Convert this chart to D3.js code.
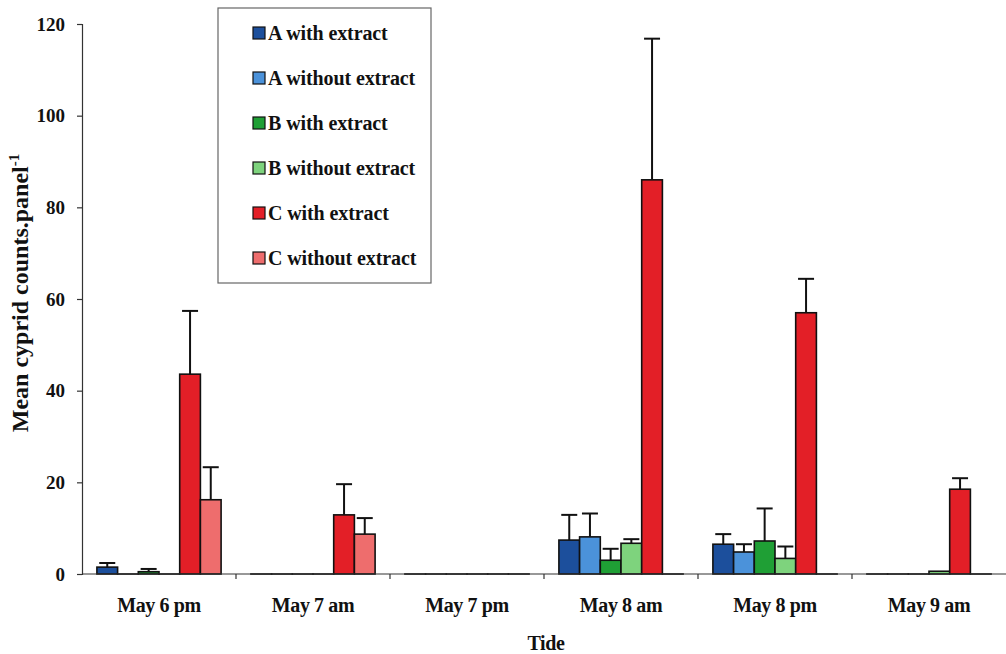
<!DOCTYPE html>
<html>
<head>
<meta charset="utf-8">
<script src="https://cdn.jsdelivr.net/npm/d3@7"></script>
<style>
  html, body { margin: 0; padding: 0; background: #fff; }
  svg { display: block; }
  text { font-family: "Liberation Serif", "Times New Roman", serif; font-weight: bold; fill: #111; }
</style>
</head>
<body>
<svg id="chart" width="1006" height="654"></svg>
<script>
// Sampling tides
const categories = ["May 6 pm", "May 7 am", "May 7 pm", "May 8 am", "May 8 pm", "May 9 am"];
const seriesNames = ["A with extract", "A without extract", "B with extract",
                     "B without extract", "C with extract", "C without extract"];
const seriesColors = ["#1c4f9c", "#4b92da", "#1f9f35", "#7ed37d", "#e31f27", "#ee6d6d"];

// Mean cyprid counts per panel, one array per treatment
const aWith     = [1.5, 0, 0, 7.4, 6.5, 0];
const aWithout  = [0, 0, 0, 8.1, 4.8, 0];
const bWith     = [0.5, 0, 0, 3.0, 7.2, 0];
const bWithout  = [0, 0, 0, 6.7, 3.4, 0.6];
const cWith     = [43.6, 12.9, 0, 86.0, 57.0, 18.5];
const cWithout  = [16.2, 8.7, 0, 0, 0, 0];

// Upper error bar lengths (same order)
const aWithErr    = [0.9, 0, 0, 5.5, 2.2, 0];
const aWithoutErr = [0, 0, 0, 5.1, 1.7, 0];
const bWithErr    = [0.6, 0, 0, 2.5, 7.1, 0];
const bWithoutErr = [0, 0, 0, 0.9, 2.6, 0];
const cWithErr    = [13.8, 6.7, 0, 30.8, 7.4, 2.4];
const cWithoutErr = [7.1, 3.5, 0, 0, 0, 0];

const yTicks = [0, 20, 40, 60, 80, 100, 120];

const means = [aWith, aWithout, bWith, bWithout, cWith, cWithout];
const errs  = [aWithErr, aWithoutErr, bWithErr, bWithoutErr, cWithErr, cWithoutErr];

const svg = d3.select("#chart");
const margin = { left: 82, right: 0, top: 24 };
const W = 1006;
const plotBottom = 574;

const x0 = d3.scaleBand().domain(categories).range([margin.left, W - margin.right]).padding(0);
const x1 = d3.scaleBand().domain(seriesNames).range([0, x0.bandwidth()])
  .paddingInner(0).paddingOuter(0.72);
const y = d3.scaleLinear().domain([0, 120]).range([plotBottom, margin.top]);

// Flatten into bar records
const bars = [];
categories.forEach((c, ci) => {
  seriesNames.forEach((s, si) => {
    bars.push({ cat: c, series: s, si, value: means[si][ci], err: errs[si][ci] });
  });
});

// Bars
svg.append("g").selectAll("rect").data(bars).join("rect")
  .attr("x", d => x0(d.cat) + x1(d.series))
  .attr("y", d => y(d.value))
  .attr("width", x1.bandwidth())
  .attr("height", d => Math.max(0.01, y(0) - y(d.value)))
  .attr("fill", d => seriesColors[d.si])
  .attr("stroke", "#111")
  .attr("stroke-width", 1.6);

// Upper error bars
const capHalf = 8;
const eb = svg.append("g").attr("stroke", "#111").attr("stroke-width", 2);
bars.filter(d => d.err > 0).forEach(d => {
  const cx = x0(d.cat) + x1(d.series) + x1.bandwidth() / 2;
  eb.append("line").attr("x1", cx).attr("x2", cx)
    .attr("y1", y(d.value)).attr("y2", y(d.value + d.err));
  eb.append("line").attr("x1", cx - capHalf).attr("x2", cx + capHalf)
    .attr("y1", y(d.value + d.err)).attr("y2", y(d.value + d.err));
});

// Y axis
const yAxis = svg.append("g").attr("transform", `translate(${margin.left},0)`)
  .call(d3.axisLeft(y).tickValues(yTicks).tickSize(5).tickPadding(12));
yAxis.select(".domain").attr("stroke", "#333").attr("stroke-width", 1.2);
yAxis.selectAll(".tick line").attr("stroke", "#333").attr("stroke-width", 1.2);
yAxis.selectAll(".tick text").attr("font-size", 19)
  .style("font-family", '"Liberation Serif", serif').style("font-weight", "bold").attr("fill", "#111");

// X axis: line with ticks at category boundaries
const xg = svg.append("g");
xg.append("line").attr("x1", margin.left).attr("x2", W).attr("y1", y(0)).attr("y2", y(0))
  .attr("stroke", "#333").attr("stroke-width", 1.2);
categories.forEach((c, i) => {
  if (i === 0) return;
  xg.append("line").attr("x1", x0(c)).attr("x2", x0(c))
    .attr("y1", y(0)).attr("y2", y(0) + 5).attr("stroke", "#333").attr("stroke-width", 1.2);
});
xg.selectAll("text.cat").data(categories).join("text").attr("class", "cat")
  .attr("x", d => x0(d) + x0.bandwidth() / 2)
  .attr("y", 612)
  .attr("text-anchor", "middle")
  .attr("font-size", 20)
  .attr("letter-spacing", -0.4)
  .text(d => d);

// Axis titles
svg.append("text").attr("x", 546).attr("y", 650).attr("text-anchor", "middle")
  .attr("font-size", 20).attr("letter-spacing", -0.4).text("Tide");

const yt = svg.append("text")
  .attr("transform", "translate(28,293) rotate(-90)")
  .attr("text-anchor", "middle")
  .attr("font-size", 24);
yt.append("tspan").text("Mean cyprid counts.panel");
yt.append("tspan").attr("font-size", 15).attr("dy", -9).text("-1");

// Legend
const legend = svg.append("g");
legend.append("rect").attr("x", 218).attr("y", 8).attr("width", 213).attr("height", 275)
  .attr("fill", "#fff").attr("stroke", "#666").attr("stroke-width", 1.2);
const rowY = d3.scalePoint().domain(seriesNames).range([33, 258]);
seriesNames.forEach((s, i) => {
  legend.append("rect").attr("x", 253).attr("y", rowY(s) - 6).attr("width", 12).attr("height", 12)
    .attr("fill", seriesColors[i]).attr("stroke", "#111").attr("stroke-width", 1.2);
  legend.append("text").attr("x", 268).attr("y", rowY(s) + 7)
    .attr("font-size", 20).attr("letter-spacing", -0.1).text(s);
});
</script>
</body>
</html>
